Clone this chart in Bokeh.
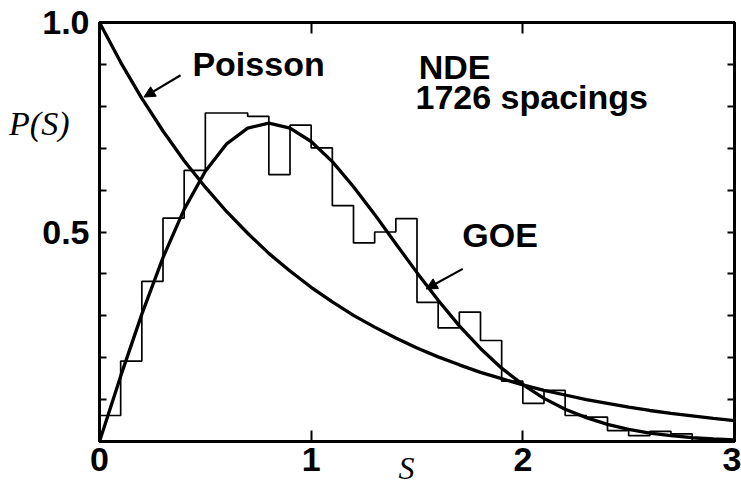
from bokeh.plotting import figure
from bokeh.models import Range1d, FixedTicker, LinearAxis, Label, Arrow, NormalHead
from bokeh.embed import file_html
from bokeh.resources import INLINE

# ---- data ----
bin_width = 0.1
hist_values = [0.062, 0.192, 0.382, 0.533, 0.647, 0.784, 0.784, 0.776, 0.637, 0.755,
               0.701, 0.563, 0.474, 0.500, 0.532, 0.332, 0.271, 0.309, 0.241, 0.144,
               0.091, 0.122, 0.062, 0.058, 0.026, 0.014, 0.024, 0.018, 0.0, 0.0]

curve_s = [0.0, 0.1, 0.2, 0.3, 0.4, 0.5, 0.6, 0.7, 0.8, 0.9, 1.0, 1.1, 1.2, 1.3, 1.4, 1.5,
           1.6, 1.7, 1.8, 1.9, 2.0, 2.1, 2.2, 2.3, 2.4, 2.5, 2.6, 2.7, 2.8, 2.9, 3.0]
poisson_p = [1.000, 0.905, 0.819, 0.741, 0.670, 0.607, 0.549, 0.497, 0.449, 0.407, 0.368,
             0.333, 0.301, 0.273, 0.247, 0.223, 0.202, 0.183, 0.165, 0.150, 0.135, 0.122,
             0.111, 0.100, 0.091, 0.082, 0.074, 0.067, 0.061, 0.055, 0.050]
goe_p = [0.000, 0.156, 0.304, 0.439, 0.554, 0.645, 0.710, 0.748, 0.760, 0.748, 0.716,
         0.668, 0.608, 0.542, 0.472, 0.403, 0.337, 0.276, 0.222, 0.175, 0.136, 0.103,
         0.077, 0.057, 0.041, 0.029, 0.020, 0.014, 0.009, 0.006, 0.004]

x_ticks = [0, 1, 2, 3]
y_ticks = [0.5, 1.0]
y_tick_labels = ["0.5", "1.0"]
y_minor_ticks = [0.1, 0.2, 0.3, 0.4, 0.6, 0.7, 0.8, 0.9]

# axis titles, placed as single-tick axes
y_title = "P(S)"
y_title_at = [0.76]
x_title = "S"
x_title_at = [1.45]

# annotation anchors (data units)
poisson_label = (0.439, 0.900)
nde_label = (1.508, 0.894)
spacing_label = (1.493, 0.822)
goe_label = (1.714, 0.492)
poisson_arrow = (0.383, 0.874, 0.21, 0.822)
goe_arrow = (1.716, 0.412, 1.543, 0.364)

# ---- figure ----
p = figure(width=741, height=497, x_range=Range1d(0, 3), y_range=Range1d(0, 1),
           output_backend="svg", toolbar_location=None,
           min_border_left=99, min_border_right=7, min_border_top=22, min_border_bottom=56)
p.grid.visible = False
p.outline_line_color = "black"
p.outline_line_width = 3
p.background_fill_color = "white"
p.border_fill_color = "white"

FONT = "Liberation Sans"
SERIF = "Liberation Serif"

def style_x(ax, labels=True):
    ax.ticker = FixedTicker(ticks=x_ticks, minor_ticks=[])
    ax.major_tick_in = 11
    ax.major_tick_out = 0
    ax.major_tick_line_width = 2
    ax.minor_tick_in = 0
    ax.minor_tick_out = 0
    ax.axis_line_width = 3
    ax.major_label_text_font = FONT
    ax.major_label_text_font_style = "bold"
    ax.major_label_text_font_size = "34px"
    ax.major_label_text_color = "black"
    ax.major_label_standoff = 6
    if not labels:
        ax.major_label_overrides = {t: "" for t in x_ticks}
        ax.major_label_standoff = 0

def style_y(ax, labels=True):
    ax.ticker = FixedTicker(ticks=y_ticks, minor_ticks=y_minor_ticks)
    ax.major_label_overrides = {t: l for t, l in zip(y_ticks, y_tick_labels)}
    ax.major_tick_in = 7
    ax.major_tick_out = 0
    ax.minor_tick_in = 7
    ax.minor_tick_out = 0
    ax.major_tick_line_width = 2
    ax.minor_tick_line_width = 2
    ax.axis_line_width = 3
    ax.major_label_text_font = FONT
    ax.major_label_text_font_style = "bold"
    ax.major_label_text_font_size = "34px"
    ax.major_label_text_color = "black"
    ax.major_label_standoff = 10
    if not labels:
        ax.major_label_overrides = {t: "" for t in y_ticks}
        ax.major_label_standoff = 0

def style_title_axis(ax, ticks, text, size, standoff):
    ax.ticker = FixedTicker(ticks=ticks, minor_ticks=[])
    ax.major_label_overrides = {ticks[0]: text}
    ax.axis_line_color = None
    ax.major_tick_line_color = None
    ax.minor_tick_line_color = None
    ax.major_tick_in = 0
    ax.major_tick_out = 0
    ax.major_label_text_font = SERIF
    ax.major_label_text_font_style = "italic"
    ax.major_label_text_font_size = size
    ax.major_label_text_color = "black"
    ax.major_label_standoff = standoff

style_x(p.xaxis[0])
style_y(p.yaxis[0])

top_ax = LinearAxis()
style_x(top_ax, labels=False)
p.add_layout(top_ax, "above")
right_ax = LinearAxis()
style_y(right_ax, labels=False)
p.add_layout(right_ax, "right")

ytitle_ax = LinearAxis()
style_title_axis(ytitle_ax, y_title_at, y_title, "34px", -30)
p.add_layout(ytitle_ax, "left")
xtitle_ax = LinearAxis()
style_title_axis(xtitle_ax, x_title_at, x_title, "32px", -24)
p.add_layout(xtitle_ax, "below")

# ---- histogram (stepped) ----
edges = [i * bin_width for i in range(len(hist_values) + 1)]
step_y = hist_values + [hist_values[-1]]
p.step(edges, step_y, mode="after", line_color="black", line_width=1.7)

# ---- theory curves ----
p.line(curve_s, poisson_p, line_color="black", line_width=3.3)
p.line(curve_s, goe_p, line_color="black", line_width=3.3)

# ---- arrows ----
for (xs, ys, xe, ye) in (poisson_arrow, goe_arrow):
    p.add_layout(Arrow(end=NormalHead(size=11, fill_color="black", line_color="black", line_width=1),
                       x_start=xs, y_start=ys, x_end=xe, y_end=ye,
                       line_color="black", line_width=2.2))

# ---- labels ----
def add_text(txt, pos):
    p.add_layout(Label(x=pos[0], y=pos[1], text=txt, text_font=FONT, text_font_style="bold",
                       text_font_size="34px", text_color="black", text_baseline="alphabetic",
                       text_align="left"))

add_text("Poisson", poisson_label)
add_text("NDE", nde_label)
add_text("1726 spacings", spacing_label)
add_text("GOE", goe_label)

open("out.html", "w").write(file_html(p, INLINE))
